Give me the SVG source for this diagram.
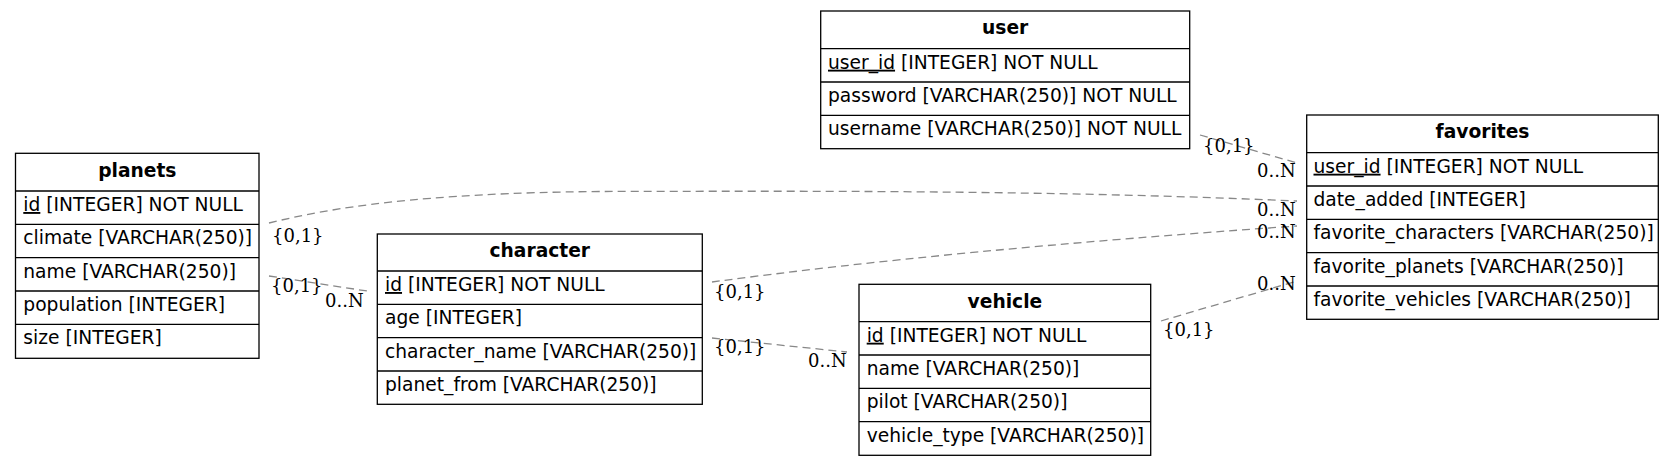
<svg xmlns="http://www.w3.org/2000/svg" width="1677" height="466" viewBox="0 0 1677 466">
<style>
.box{fill:#fff;stroke:#000;stroke-width:1.3}
.sep{stroke:#000;stroke-width:1.3}
.hd{font-family:"DejaVu Sans",sans-serif;font-size:18.67px;font-weight:bold;text-anchor:middle;fill:#000}
.tx{font-family:"DejaVu Sans",sans-serif;font-size:18.67px;fill:#000}
.lb{font-family:"DejaVu Serif",serif;font-size:18px;fill:#000}
.e{fill:none;stroke:#888;stroke-width:1.3;stroke-dasharray:8,5}
.u{text-decoration:underline}
</style>
<rect width="1677" height="466" fill="#fff"/>
<g id="connectors">
<path class="e" d="M1200,135 L1297,163"/>
<path class="e" d="M269,223 C330,208 420,193 600,191.5 C800,191 1050,190 1297,201"/>
<path class="e" d="M269,276 L367,291"/>
<path class="e" d="M712,282 Q950,250 1297,226"/>
<path class="e" d="M712,338 L847,352"/>
<path class="e" d="M1161,321 L1297,281"/>
<text class="lb" x="1203" y="152">{0,1}</text>
<text class="lb" x="1257" y="177">0..N</text>
<text class="lb" x="272" y="242">{0,1}</text>
<text class="lb" x="1257" y="216">0..N</text>
<text class="lb" x="271" y="292">{0,1}</text>
<text class="lb" x="325" y="307">0..N</text>
<text class="lb" x="714" y="298">{0,1}</text>
<text class="lb" x="1257" y="238">0..N</text>
<text class="lb" x="714" y="353">{0,1}</text>
<text class="lb" x="808" y="367">0..N</text>
<text class="lb" x="1163" y="336">{0,1}</text>
<text class="lb" x="1257" y="290">0..N</text>
</g>
<g id="planets">
<rect class="box" x="15.5" y="153.3" width="243.5" height="205"/>
<line class="sep" x1="15.5" y1="191" x2="259" y2="191"/>
<line class="sep" x1="15.5" y1="224.3" x2="259" y2="224.3"/>
<line class="sep" x1="15.5" y1="257.7" x2="259" y2="257.7"/>
<line class="sep" x1="15.5" y1="291" x2="259" y2="291"/>
<line class="sep" x1="15.5" y1="324.3" x2="259" y2="324.3"/>
<text class="hd" x="137.3" y="176.7">planets</text>
<text class="tx" x="23.3" y="211"><tspan class="u">id</tspan> [INTEGER] NOT NULL</text>
<text class="tx" x="23.3" y="244.3">climate [VARCHAR(250)]</text>
<text class="tx" x="23.3" y="277.7">name [VARCHAR(250)]</text>
<text class="tx" x="23.3" y="311">population [INTEGER]</text>
<text class="tx" x="23.3" y="344.3">size [INTEGER]</text>
</g>
<g id="character">
<rect class="box" x="377.3" y="234" width="325" height="170.3"/>
<line class="sep" x1="377.3" y1="271" x2="702.3" y2="271"/>
<line class="sep" x1="377.3" y1="304.3" x2="702.3" y2="304.3"/>
<line class="sep" x1="377.3" y1="337.7" x2="702.3" y2="337.7"/>
<line class="sep" x1="377.3" y1="371" x2="702.3" y2="371"/>
<text class="hd" x="539.8" y="257.4">character</text>
<text class="tx" x="385" y="291"><tspan class="u">id</tspan> [INTEGER] NOT NULL</text>
<text class="tx" x="385" y="324.3">age [INTEGER]</text>
<text class="tx" x="385" y="357.7">character_name [VARCHAR(250)]</text>
<text class="tx" x="385" y="391">planet_from [VARCHAR(250)]</text>
</g>
<g id="user">
<rect class="box" x="820.7" y="11" width="369" height="137.7"/>
<line class="sep" x1="820.7" y1="48.7" x2="1189.7" y2="48.7"/>
<line class="sep" x1="820.7" y1="82" x2="1189.7" y2="82"/>
<line class="sep" x1="820.7" y1="115.3" x2="1189.7" y2="115.3"/>
<text class="hd" x="1005.2" y="34.4">user</text>
<text class="tx" x="828" y="68.7"><tspan class="u">user_id</tspan> [INTEGER] NOT NULL</text>
<text class="tx" x="828" y="102">password  [VARCHAR(250)] NOT NULL</text>
<text class="tx" x="828" y="135.3">username [VARCHAR(250)] NOT NULL</text>
</g>
<g id="favorites">
<rect class="box" x="1306.7" y="115" width="351.6" height="204.3"/>
<line class="sep" x1="1306.7" y1="152.7" x2="1658.3" y2="152.7"/>
<line class="sep" x1="1306.7" y1="186" x2="1658.3" y2="186"/>
<line class="sep" x1="1306.7" y1="219.3" x2="1658.3" y2="219.3"/>
<line class="sep" x1="1306.7" y1="252.7" x2="1658.3" y2="252.7"/>
<line class="sep" x1="1306.7" y1="286" x2="1658.3" y2="286"/>
<text class="hd" x="1482.5" y="138.4">favorites</text>
<text class="tx" x="1313.5" y="172.7"><tspan class="u">user_id</tspan> [INTEGER] NOT NULL</text>
<text class="tx" x="1313.5" y="206">date_added  [INTEGER]</text>
<text class="tx" x="1313.5" y="239.3">favorite_characters [VARCHAR(250)]</text>
<text class="tx" x="1313.5" y="272.7">favorite_planets  [VARCHAR(250)]</text>
<text class="tx" x="1313.5" y="306">favorite_vehicles [VARCHAR(250)]</text>
</g>
<g id="vehicle">
<rect class="box" x="859" y="284.3" width="291.7" height="171"/>
<line class="sep" x1="859" y1="321.7" x2="1150.7" y2="321.7"/>
<line class="sep" x1="859" y1="355" x2="1150.7" y2="355"/>
<line class="sep" x1="859" y1="388.3" x2="1150.7" y2="388.3"/>
<line class="sep" x1="859" y1="421.7" x2="1150.7" y2="421.7"/>
<text class="hd" x="1004.9" y="307.7">vehicle</text>
<text class="tx" x="866.7" y="341.7"><tspan class="u">id</tspan> [INTEGER] NOT NULL</text>
<text class="tx" x="866.7" y="375">name [VARCHAR(250)]</text>
<text class="tx" x="866.7" y="408.3">pilot [VARCHAR(250)]</text>
<text class="tx" x="866.7" y="441.7">vehicle_type [VARCHAR(250)]</text>
</g>
</svg>
